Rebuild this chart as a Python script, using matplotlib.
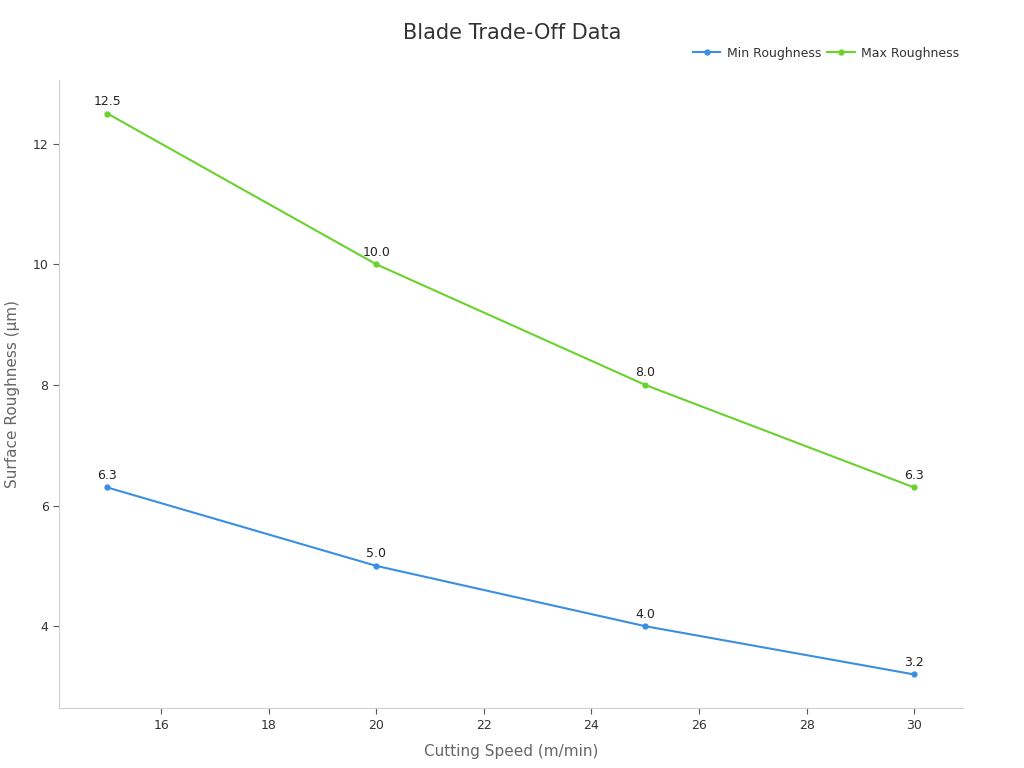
import matplotlib
matplotlib.use("Agg")
import matplotlib.pyplot as plt

cutting_speed = [15, 20, 25, 30]
min_roughness = [6.3, 5.0, 4.0, 3.2]
max_roughness = [12.5, 10.0, 8.0, 6.3]

plt.rcParams['font.family'] = ['DejaVu Sans']

fig = plt.figure(figsize=(10.24, 7.68), dpi=100)
ax = fig.add_axes([0.0576, 0.078, 0.8824, 0.818])

blue = '#3a8fe3'
green = '#6ad22d'

ax.plot(cutting_speed, min_roughness, color=blue, lw=1.5, marker='o', ms=3.5, label='Min Roughness')
ax.plot(cutting_speed, max_roughness, color=green, lw=1.5, marker='o', ms=3.5, label='Max Roughness')

for x, y in zip(cutting_speed, min_roughness):
    ax.annotate(f"{y:.1f}", (x, y), xytext=(0, 4), textcoords='offset points',
                ha='center', va='bottom', fontsize=9, color='#222222')
for x, y in zip(cutting_speed, max_roughness):
    ax.annotate(f"{y:.1f}", (x, y), xytext=(0, 4), textcoords='offset points',
                ha='center', va='bottom', fontsize=9, color='#222222')

ax.margins(x=0.06, y=0.06)
ax.set_xticks([16, 18, 20, 22, 24, 26, 28, 30])
ax.set_yticks([4, 6, 8, 10, 12])

for s in ['top', 'right']:
    ax.spines[s].set_visible(False)
for s in ['left', 'bottom']:
    ax.spines[s].set_color('#d0d0d0')
ax.tick_params(colors='#555555', labelsize=9, labelcolor='#333333', length=4)

ax.set_xlabel('Cutting Speed (m/min)', fontsize=11, color='#666666', labelpad=9)
ax.set_ylabel('Surface Roughness (μm)', fontsize=11, color='#666666', labelpad=9)

fig.suptitle('Blade Trade-Off Data', x=0.5, y=0.97, fontsize=15, color='#333333')

ax.legend(loc='lower right', bbox_to_anchor=(1.006, 1.018), ncol=2, frameon=False,
          fontsize=9, handlelength=2.2, columnspacing=0.5, handletextpad=0.5,
          borderaxespad=0.3, labelcolor='#333333')

fig.savefig('out.png', dpi=100)
